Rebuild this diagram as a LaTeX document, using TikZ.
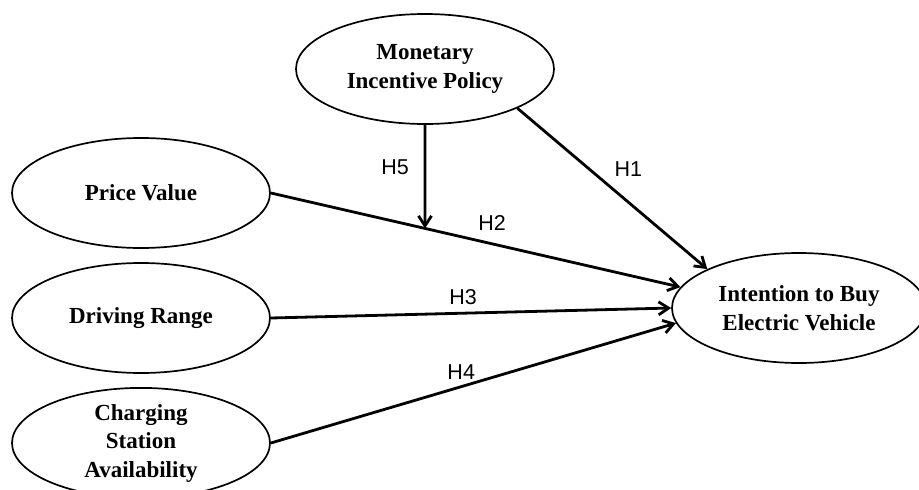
\documentclass[tikz,border=0pt]{standalone}
\usepackage{fontspec}
\setmainfont{Liberation Serif}
\newfontfamily\hypfont{Liberation Sans}
\usetikzlibrary{shapes.geometric}
\usetikzlibrary{arrows.meta}
\usetikzlibrary{calc}

\begin{document}
\begin{tikzpicture}[x=1pt, y=-1pt]
        % ================= styles =================
        \tikzset{
            % construct: white ellipse, black border, bold serif text
            cnode/.style={ellipse, draw=black, line width=1.7pt, fill=white, minimum width=258pt, minimum height=110pt, inner sep=0pt, align=center, font=\bfseries\fontsize{23}{28.5}\selectfont},
            % hypothesis arrow
            hyp_path/.style={line width=2.8pt, -{Straight Barb[length=10pt, width=13pt]}},
            % hypothesis label
            hyp_label/.style={font=\hypfont\fontsize{21.5}{24}\selectfont, inner sep=0pt}
        }
        \useasboundingbox (0,0) rectangle (919,490);

        % ================= constructs =================
        \node[cnode] (mip) at (425,69) {Monetary\\Incentive Policy};
        \node[cnode] (pv) at (141,193) {Price Value};
        \node[cnode] (dr) at (141,318) {Driving Range};
        \node[cnode] (csa) at (141,443) {Charging\\Station\\Availability};
        \node[cnode, minimum width=254pt] (ibev) at (799,308) {Intention to Buy\\Electric Vehicle};

        % ================= hypotheses =================
        \draw[hyp_path] (mip.-23) -- (ibev.157) node[hyp_label, pos=0.5, xshift=16pt, yshift=20pt] (h1) {H1};
        \draw[hyp_path] (pv.east) -- (ibev.170) node[hyp_label, pos=0.54, yshift=21pt] (h2) {H2};
        \draw[hyp_path] (dr.east) -- (ibev.west) node[hyp_label, pos=0.48, yshift=16pt] (h3) {H3};
        \draw[hyp_path] (csa.east) -- (ibev.187) node[hyp_label, pos=0.47, yshift=15pt] (h4) {H4};

        % moderation: H5 meets the H2 path
        \coordinate (mip_down) at ($(mip.south)+(0,150)$);
        \coordinate (h5_end) at (intersection of mip.south--mip_down and pv.east--ibev.170);
        \draw[hyp_path] (mip.south) -- (h5_end) node[hyp_label, pos=0.41, xshift=-30pt] (h5) {H5};

    \end{tikzpicture}
\end{document}
